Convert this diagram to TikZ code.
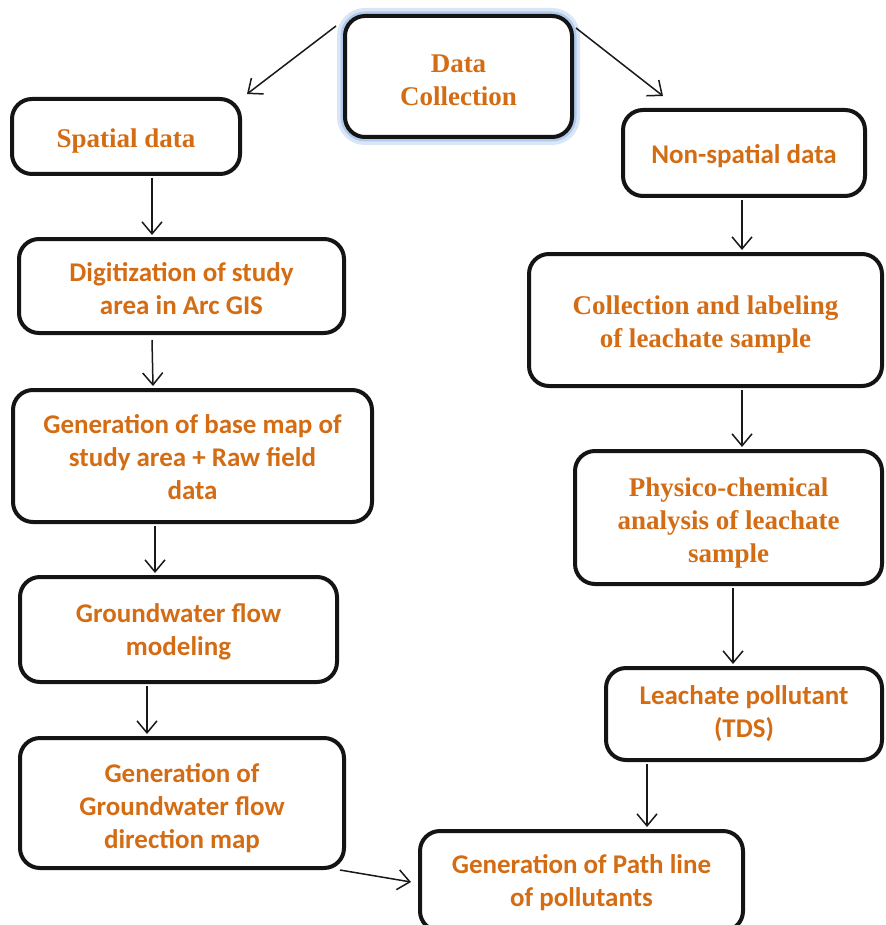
\documentclass[tikz,border=0pt]{standalone}
\usepackage{fontspec}
\newfontfamily\serifbf{Liberation Serif}
\newfontfamily\sansbf{Carlito}
\usetikzlibrary{arrows.meta,calc}
\definecolor{txt}{RGB}{212,108,20}
\definecolor{glowA}{RGB}{218,230,246}
\definecolor{glowB}{RGB}{175,202,236}
\begin{document}
\begin{tikzpicture}[x=1pt,y=-1pt,
 box/.style={draw=black!92,line width=4pt,rounded corners=20pt,fill=white,inner sep=0pt},
 sanstxt/.style={align=center,text=txt,inner sep=0pt,font=\sansbf\fontsize{27}{33}\selectfont\bfseries},
 seriftxt/.style={align=center,text=txt,inner sep=0pt,font=\serifbf\fontsize{27}{33}\selectfont\bfseries},
 arr/.style={line width=1.5pt,black!90,-{Straight Barb[length=12pt,width=20pt]}}]
\useasboundingbox (0,0) rectangle (885,925);

\node[box,minimum width=227pt,minimum height=121pt,
  preaction={draw=glowA,line width=16pt},preaction={draw=glowB,line width=9pt},
  label={[seriftxt,yshift=-4pt]center:{Data\\Collection}}]
  (dc) at (458.5,76.5) {};
\node[box,minimum width=228pt,minimum height=75pt,
  label={[seriftxt,yshift=-5pt]center:{Spatial data}}] (sp) at (126,136.5) {};
\node[box,minimum width=242pt,minimum height=86pt,
  label={[sanstxt,yshift=-3pt]center:{Non-spatial data}}] (ns) at (744,153) {};
\node[box,minimum width=325pt,minimum height=94pt,
  label={[sanstxt,yshift=-3pt]center:{Digitization of study\\area in Arc GIS}}] (dg) at (181.5,286) {};
\node[box,minimum width=353pt,minimum height=132pt,
  label={[seriftxt,yshift=-5pt]center:{Collection and labeling\\of leachate sample}}] (cl) at (705.5,320) {};
\node[box,minimum width=359pt,minimum height=132pt,
  label={[sanstxt,yshift=-1.5pt]center:{Generation of base map of\\study area + Raw field\\data}}] (bm) at (192.5,456) {};
\node[box,minimum width=307pt,minimum height=133pt,
  label={[seriftxt,yshift=-6pt]center:{Physico-chemical\\analysis of leachate\\sample}}] (pc) at (728.5,517.5) {};
\node[box,minimum width=317pt,minimum height=105pt,
  label={[sanstxt,yshift=-2pt]center:{Groundwater flow\\modeling}}] (gw) at (178.5,629.5) {};
\node[box,minimum width=276pt,minimum height=92pt,
  label={[sanstxt]center:{Leachate pollutant\\(TDS)}}] (lp) at (744,714) {};
\node[box,minimum width=324pt,minimum height=130pt,
  label={[sanstxt,yshift=-5pt]center:{Generation of\\Groundwater flow\\direction map}}] (gd) at (182,803) {};
\node[box,minimum width=323pt,minimum height=100pt,
  label={[sanstxt,yshift=-2pt]center:{Generation of Path line\\of pollutants}}] (pl) at (581.5,881) {};

\draw[arr] ($(dc.north west)+(-7,12)$) -- ($(sp.north east)+(5,-3)$);
\draw[arr] ($(dc.north east)+(2,14)$) -- ($(ns.north west)+(42,-12)$);
\draw[arr] ($(sp.south)+(26,2)$) -- ($(dg.north)+(-29.5,-2)$);
\draw[arr] ($(ns.south)+(-2,2)$) -- ($(cl.north)+(36.5,-2)$);
\draw[arr] ($(dg.south)+(-29.5,5)$) -- ($(bm.north)+(-39.5,-2)$);
\draw[arr] ($(cl.south)+(36.5,2)$) -- ($(pc.north)+(13.5,-2)$);
\draw[arr] ($(bm.south)+(-37.5,2)$) -- ($(gw.north)+(-23.5,-2)$);
\draw[arr] ($(pc.south)+(4.5,2)$) -- ($(lp.north)+(-11,-2)$);
\draw[arr] ($(gw.south)+(-31.5,2)$) -- ($(gd.north)+(-35,-2)$);
\draw[arr] ($(lp.south)+(-97,2)$) -- ($(pl.north)+(65.5,-2)$);
\draw[arr] ($(gd.south east)+(-6,0)$) -- ($(pl.west)+(-7,1)$);
\end{tikzpicture}
\end{document}
